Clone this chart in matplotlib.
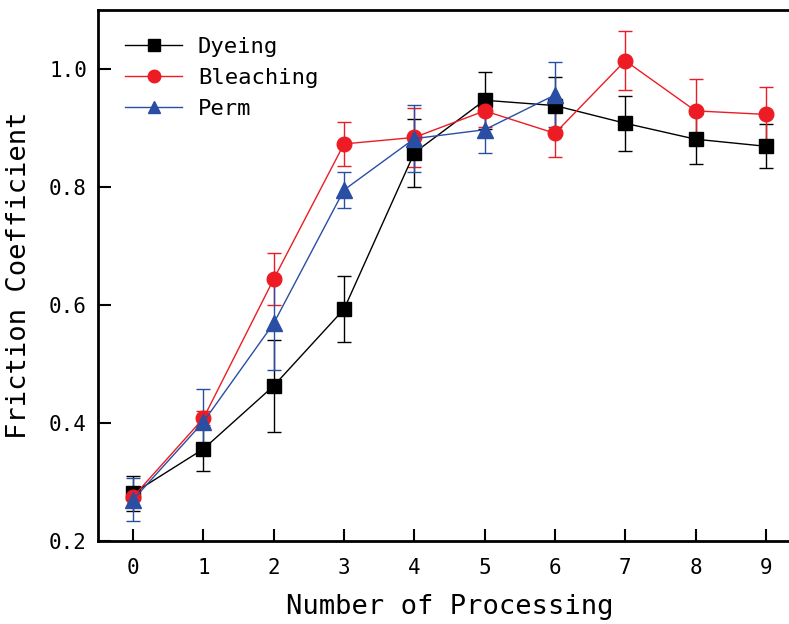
import numpy as np
import matplotlib
matplotlib.use("Agg")
import matplotlib.pyplot as plt
from matplotlib.lines import Line2D

# datos
procesos = np.arange(10)
tenido = [0.281, 0.356, 0.463, 0.593, 0.858, 0.947, 0.938, 0.908, 0.881, 0.869]
tenido_err = [0.030, 0.037, 0.078, 0.056, 0.058, 0.048, 0.048, 0.047, 0.042, 0.037]
decolor = [0.275, 0.408, 0.644, 0.873, 0.884, 0.929, 0.891, 1.014, 0.929, 0.923]
decolor_err = [0.015, 0.012, 0.044, 0.037, 0.050, 0.028, 0.040, 0.050, 0.054, 0.046]
perm_x = np.arange(7)
perm = [0.270, 0.402, 0.569, 0.795, 0.882, 0.897, 0.956]
perm_err = [0.036, 0.056, 0.080, 0.031, 0.057, 0.040, 0.055]

etiquetas = ["Dyeing", "Bleaching", "Perm"]
colores = ["black", "#ed1c24", "#2a4ea3"]
marcadores = ['s', 'o', '^']

plt.rcParams['font.family'] = ['DejaVu Sans Mono']

fig = plt.figure(figsize=(7.89, 6.24), dpi=100)
# el eje se sale por la derecha como en el original
ax = fig.add_axes([0.1242, 0.133, 0.891, 0.851])

ax.errorbar(procesos, tenido, yerr=tenido_err, color=colores[0], marker='s',
            markersize=10, lw=1, elinewidth=1, capsize=5)
ax.errorbar(procesos, decolor, yerr=decolor_err, color=colores[1], marker='o',
            markersize=10.5, lw=1, elinewidth=1, capsize=5)
ax.errorbar(perm_x, perm, yerr=perm_err, color=colores[2], marker='^',
            markersize=11, lw=1, elinewidth=1, capsize=5)

ax.set_xlim(-0.5, 9.5)
ax.set_ylim(0.2, 1.1)
ax.set_xticks(procesos)
ax.set_yticks([0.2, 0.4, 0.6, 0.8, 1.0])
ax.set_yticklabels(["0.2", "0.4", "0.6", "0.8", "1.0"])
ax.tick_params(direction='in', length=9, width=1.5, labelsize=15)
ax.tick_params(axis='x', pad=12)
ax.tick_params(axis='y', pad=8)
ax.spines['right'].set_visible(False)
for s in ['left', 'bottom', 'top']:
    ax.spines[s].set_linewidth(2)

ax.set_xlabel("Number of Processing", fontsize=19.5, labelpad=12)
ax.set_ylabel("Friction Coefficient", fontsize=19.5, labelpad=12)

manejadores = [Line2D([], [], color=c, marker=m, markersize=9, lw=1)
               for c, m in zip(colores, marcadores)]
ax.legend(manejadores, etiquetas, loc='upper left', frameon=False, fontsize=16,
          handlelength=2.6, labelspacing=0.5, borderaxespad=0.8,
          handletextpad=0.7, borderpad=0.4)

plt.savefig("out.png", dpi=100)
